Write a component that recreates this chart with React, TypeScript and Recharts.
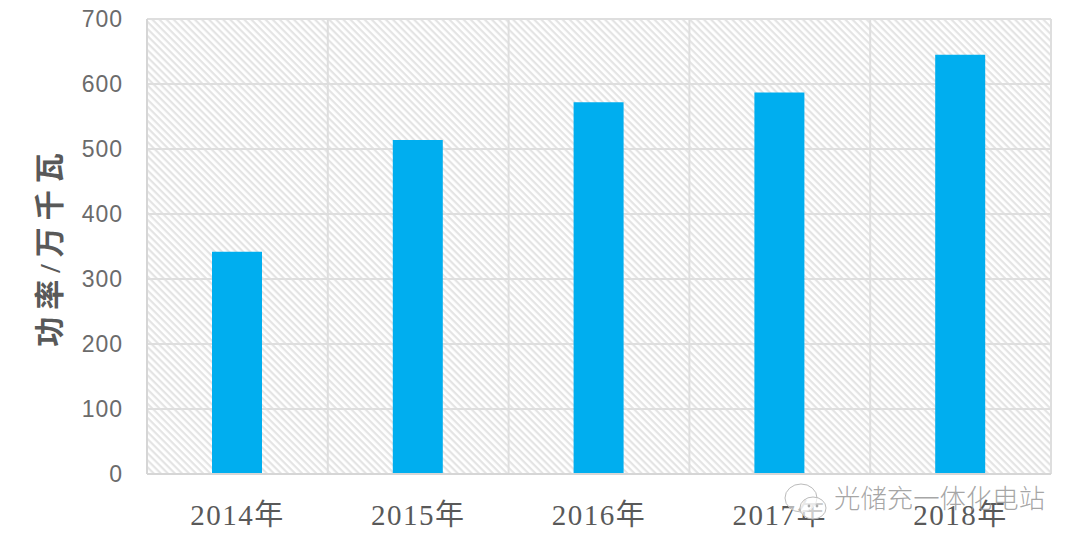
import React from "react";
import { BarChart, Bar, XAxis, YAxis, CartesianGrid, Label } from "recharts";

const categories = ["2014年", "2015年", "2016年", "2017年", "2018年"];
const power = [342, 514, 572, 587, 645];
const yTicks = [0, 100, 200, 300, 400, 500, 600, 700];
const axisTitle = "功率/万千瓦";
const watermark = "光储充一体化电站";

const rows = categories.map((year, i) => ({ year, power: power[i] }));

export default function App() {
  return (
    <div style={{ position: "absolute", left: 0, top: 0, width: 1080, height: 544, background: "#fff", overflow: "hidden" }}>
      <BarChart width={1080} height={544} data={rows} margin={{ top: 19, right: 29, bottom: 0, left: 0 }} barSize={50}>
        <defs>
          <pattern id="hatch" width="5" height="5" patternUnits="userSpaceOnUse" patternTransform="rotate(45)">
            <rect width="5" height="5" fill="#ffffff" />
            <rect width="5" height="2.2" fill="#e4e4e4" />
          </pattern>
        </defs>
        <CartesianGrid
          fill="url(#hatch)"
          fillOpacity={1}
          stroke="#dedede"
          strokeWidth={2}
          verticalCoordinatesGenerator={({ offset }: any) =>
            Array.from({ length: categories.length + 1 }, (_, i) => offset.left + (offset.width * i) / categories.length)
          }
        />
        <XAxis
          dataKey="year"
          height={70}
          axisLine={{ stroke: "#d6d6d6", strokeWidth: 2 }}
          tickLine={false}
          tickMargin={24}
          tick={{ fill: "#595959", fontSize: 29, letterSpacing: 1.5, fontFamily: "'Liberation Serif', 'Noto Sans CJK SC'" }}
        />
        <YAxis
          width={147}
          domain={[0, 700]}
          ticks={yTicks}
          interval={0}
          axisLine={{ stroke: "#d6d6d6", strokeWidth: 2 }}
          tickLine={false}
          tickMargin={18}
          tick={{ fill: "#6b6b6b", fontSize: 23, fontFamily: "'Liberation Sans', sans-serif", letterSpacing: 1 }}
        >
          <Label
            value={axisTitle}
            angle={-90}
            position="insideLeft"
            offset={49}
            style={{ fill: "#595959", fontSize: 30, fontWeight: 700, letterSpacing: 7, fontFamily: "'Liberation Serif', 'Noto Sans CJK SC'", textAnchor: "middle" }}
          />
        </YAxis>
        <Bar dataKey="power" fill="#00aeef" isAnimationActive={false} />
      </BarChart>
      <svg width={48} height={48} viewBox="0 0 48 48" style={{ position: "absolute", left: 784, top: 479 }}>
        <ellipse cx="17" cy="19" rx="16" ry="14" fill="#fff" fillOpacity={0.55} stroke="#bbb" />
        <ellipse cx="29" cy="29" rx="13" ry="11" fill="#fff" fillOpacity={0.7} stroke="#bbb" />
        <circle cx="25" cy="27" r="1.4" fill="#aaa" />
        <circle cx="33" cy="27" r="1.4" fill="#aaa" />
      </svg>
      <div
        style={{
          position: "absolute",
          left: 834,
          top: 480,
          fontSize: 26.4,
          lineHeight: "34px",
          color: "rgba(150,150,150,0.85)",
          fontFamily: "'Noto Sans CJK SC'",
          fontWeight: 300,
          whiteSpace: "nowrap",
        }}
      >
        {watermark}
      </div>
    </div>
  );
}
